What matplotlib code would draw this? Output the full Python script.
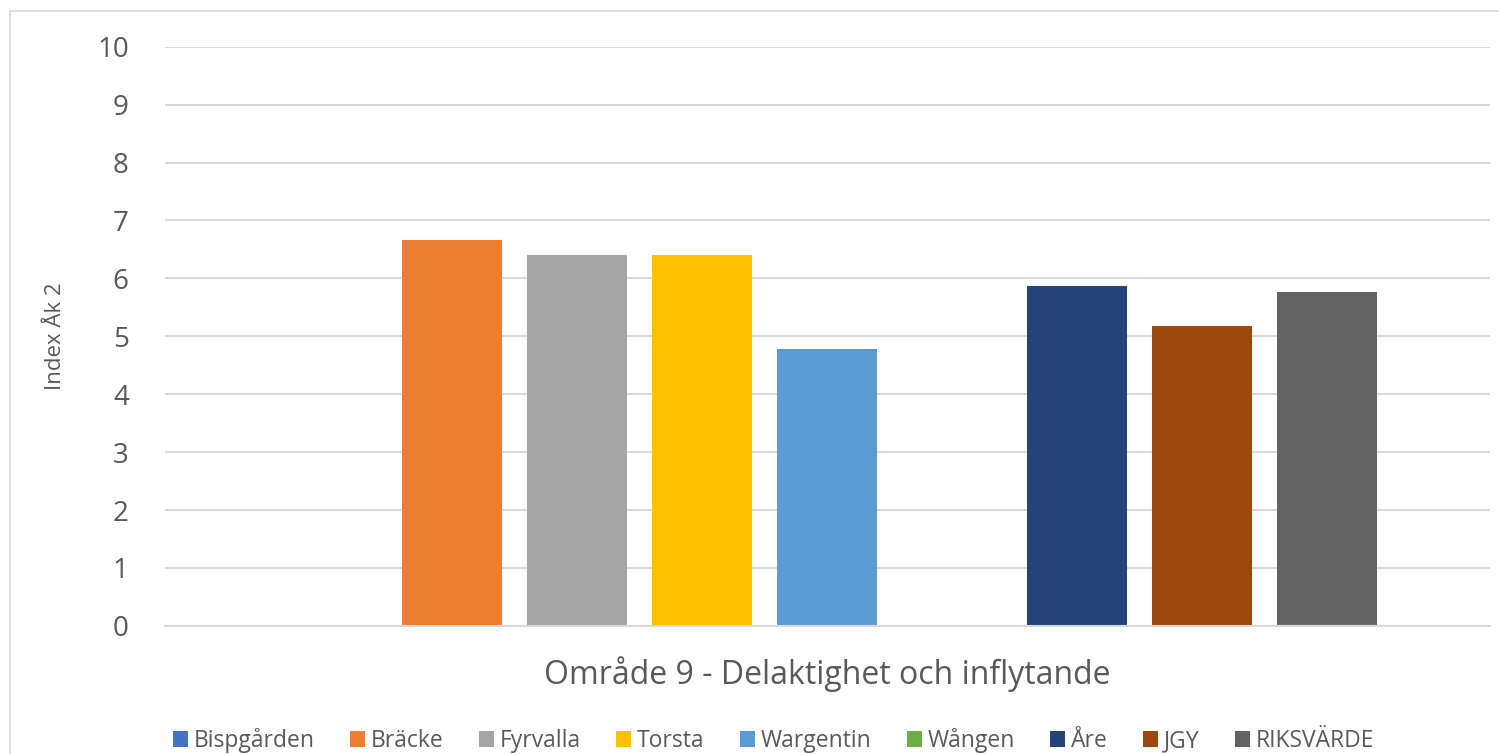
import numpy as np
import matplotlib.pyplot as plt
from matplotlib.patches import Rectangle

# Data
skolor = ['Bispgården', 'Bräcke', 'Fyrvalla', 'Torsta', 'Wargentin', 'Wången', 'Åre', 'JGY', 'RIKSVÄRDE']
index_ak2 = [np.nan, 6.67, 6.40, 6.40, 4.78, np.nan, 5.87, 5.18, 5.77]
farger = ['#4472C4', '#ED7D31', '#A5A5A5', '#FFC000', '#5B9BD5', '#70AD47', '#264478', '#9E480E', '#636363']

plt.rcParams['font.family'] = ['Open Sans', 'DejaVu Sans']

fig = plt.figure(figsize=(14.99, 7.54), dpi=100)
ax = fig.add_axes([0.110, 0.170, 0.884, 0.768])

# ram runt diagrammet
fig.patches.append(Rectangle((10 / 1499, -0.01), 1.2, 1 - 11 / 754 + 0.01, transform=fig.transFigure,
                             fill=False, edgecolor='#D9D9D9', lw=1.2))

n = len(skolor)
x = np.arange(n) - (n - 1) / 2
for i in range(n):
    ax.bar(x[i], index_ak2[i], width=0.8, color=farger[i], label=skolor[i])

ax.set_ylim(0, 10)
ax.set_xlim(-5.3, 5.3)
ax.set_yticks(range(0, 11))
ax.set_xticks([])
ax.tick_params(axis='y', length=0, labelsize=20, labelcolor='#595959', pad=26)
ax.grid(axis='y', color='#D9D9D9', lw=1.5)
ax.set_axisbelow(True)
for s in ['top', 'right', 'left']:
    ax.spines[s].set_visible(False)
ax.spines['bottom'].set_color('#D9D9D9')
ax.spines['bottom'].set_linewidth(1.5)

ax.set_ylabel('Index Åk 2', fontsize=16, color='#595959', labelpad=22)
ax.set_xlabel('Område 9 - Delaktighet och inflytande', fontsize=23, color='#595959', labelpad=22)

fig.legend(loc='center', bbox_to_anchor=(0.516, 0.018), ncol=n, frameon=False, fontsize=16.5,
           handlelength=0.65, handleheight=0.65, handletextpad=0.25, columnspacing=1.55,
           labelcolor='#595959')

fig.savefig('out.png', dpi=100)
